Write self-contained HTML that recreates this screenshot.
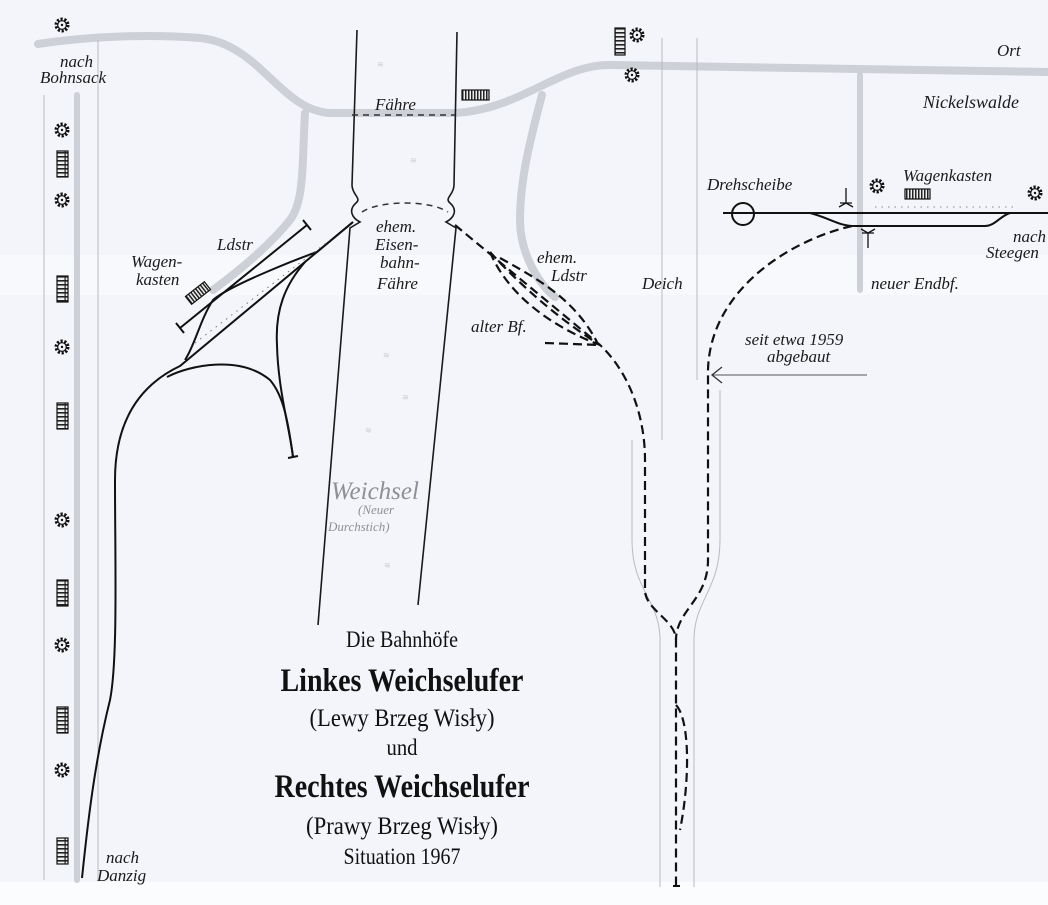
<!DOCTYPE html>
<html><head><meta charset="utf-8"><style>
html,body{margin:0;padding:0;background:#f3f5fa;}
svg{display:block;}
.it{font-family:"Liberation Serif",serif;font-style:italic;fill:#1a1a1a;}
.ti{font-family:"Liberation Serif",serif;fill:#111;}
</style></head><body>
<svg width="1048" height="905" viewBox="0 0 1048 905" xmlns="http://www.w3.org/2000/svg">
<defs>
<symbol id="fl" viewBox="-9 -9 18 18" overflow="visible">
<circle r="6" fill="none" stroke="#111" stroke-width="3" stroke-dasharray="2.2 1.6"/>
<circle r="4.3" fill="none" stroke="#111" stroke-width="1.2"/>
<circle r="1.2" fill="#111"/>
</symbol>
<pattern id="vb" width="10" height="4" patternUnits="userSpaceOnUse"><rect width="10" height="4" fill="#eee"/><rect width="10" height="1.6" fill="#222"/><rect x="4.5" width="1.2" height="4" fill="#222"/></pattern>
<pattern id="hb" width="3" height="10" patternUnits="userSpaceOnUse"><rect width="3" height="10" fill="#eee"/><rect width="1.5" height="10" fill="#222"/></pattern>
</defs>
<rect width="1048" height="905" fill="#f3f5fa"/>
<rect x="0" y="255" width="1048" height="40" fill="#f8f9fc"/>
<rect x="0" y="882" width="1048" height="23" fill="#fbfcfd"/>

<g fill="none" stroke="#cdd0d6" stroke-width="8" stroke-linecap="round">
<path d="M38,44 C90,36 150,34 200,38 C260,44 280,110 330,113 L455,113 C520,110 560,64 610,65 C700,66 900,70 1048,72"/>
<path d="M305,113 C302,160 305,200 290,220 C270,245 240,270 213,290"/>
<path d="M542,95 C530,140 520,180 520,220 C520,255 540,285 555,297"/>
<path d="M860,75 L860,290" stroke-width="6"/>
<path d="M77,95 L77,880" stroke-width="6"/>
</g>
<g fill="none" stroke="#b8bac0" stroke-width="1">
<path d="M44,95 L44,880"/><path d="M98,40 L98,880"/>
<path d="M662,38 L662,440"/><path d="M697,38 L697,380"/>
<path d="M632,440 L632,540 C632,590 660,600 660,640 L660,887"/>
<path d="M720,390 L720,540 C720,590 694,600 694,640 L694,887"/>
<path d="M712,375 L867,375" stroke="#555"/>
</g>
<path d="M722,367 L712,375 L722,383" fill="none" stroke="#333" stroke-width="1.3"/>

<g fill="none" stroke="#1a1a1a" stroke-width="1.6">
<path d="M357,30 L352,185 C352,195 362,198 356,203 C348,210 352,218 360,222 L350,228 L318,625"/>
<path d="M457,32 L454,185 C454,195 444,198 450,203 C458,210 454,218 446,222 L456,228 L418,605"/>
</g>
<path d="M352,115 L455,115" stroke="#333" stroke-width="1.5" stroke-dasharray="6 5" fill="none"/>
<path d="M362,212 C380,200 430,200 448,212" stroke="#333" stroke-width="1.5" stroke-dasharray="6 5" fill="none"/>
<g fill="#c9ccd2" font-size="8" font-family="Liberation Sans,sans-serif"><text x="377" y="67">≋</text><text x="410" y="163">≋</text><text x="383" y="358">≋</text><text x="402" y="400">≋</text><text x="365" y="433">≋</text><text x="384" y="568">≋</text></g>

<g fill="none" stroke="#111" stroke-width="2">
<path d="M82,878 C88,820 95,760 110,700 C118,660 115,560 115,480 C115,420 140,385 180,366 L353,222"/>
<path d="M180,328 L307,225"/><path d="M176,323 L184,333 M303,220 L311,230"/>
<path d="M353,222 L317,252 C300,258 230,285 213,300 C200,320 195,345 185,360"/>
<path d="M305,262 C285,285 275,310 277,345 C278,390 290,430 293,457"/><path d="M288,458 L298,456"/>
<path d="M167,377 C190,365 240,355 270,380 C283,395 288,420 293,457"/>
</g>
<path d="M195,343 L330,240" stroke="#777" stroke-width="1" stroke-dasharray="1.5 5" fill="none"/>

<g fill="none" stroke="#111" stroke-width="2.2" stroke-dasharray="9 5">
<path d="M455,225 L600,345 C625,368 645,410 645,460 L645,590 C645,610 676,620 676,640 L676,885"/>
<path d="M490,252 C520,285 560,320 600,345"/>
<path d="M490,252 C510,300 560,330 600,345"/>
<path d="M500,258 C540,280 575,300 597,342"/>
<path d="M545,343 L600,345"/>
<path d="M676,705 C690,720 690,780 680,830"/>
<path d="M852,226 C790,240 710,290 708,370 L708,560 C708,600 676,610 676,640"/>
</g>
<path d="M673,886 L680,886" stroke="#111" stroke-width="2"/>

<g fill="none" stroke="#111" stroke-width="2">
<path d="M723,213 L1048,213"/>
<circle cx="743" cy="214" r="11"/>
<path d="M810,213 C830,218 838,226 855,226 L985,226 C995,226 1000,216 1010,213"/>
<path d="M846,188 L846,203 M839,207 L846,203 L853,207 M840,203 L852,203" stroke-width="1.3"/>
<path d="M868,248 L868,233 M861,229 L868,233 L875,229 M862,233 L874,233" stroke-width="1.3"/>
</g>
<path d="M875,207 L1015,207" stroke="#888" stroke-width="1" stroke-dasharray="1.5 5"/>

<g>
<use href="#fl" x="53" y="16" width="18" height="18"/>
<use href="#fl" x="53" y="121" width="18" height="18"/>
<use href="#fl" x="53" y="191" width="18" height="18"/>
<use href="#fl" x="53" y="338" width="18" height="18"/>
<use href="#fl" x="53" y="511" width="18" height="18"/>
<use href="#fl" x="53" y="636" width="18" height="18"/>
<use href="#fl" x="53" y="761" width="18" height="18"/>
<use href="#fl" x="628" y="26" width="18" height="18"/>
<use href="#fl" x="623" y="66" width="18" height="18"/>
<use href="#fl" x="868" y="177" width="18" height="18"/>
<use href="#fl" x="1026" y="184" width="18" height="18"/>
</g>
<g stroke="#111" stroke-width="1.2">
<rect x="57" y="151" width="11" height="26" fill="url(#vb)"/>
<rect x="57" y="276" width="11" height="26" fill="url(#vb)"/>
<rect x="57" y="403" width="11" height="26" fill="url(#vb)"/>
<rect x="57" y="580" width="11" height="26" fill="url(#vb)"/>
<rect x="57" y="707" width="11" height="26" fill="url(#vb)"/>
<rect x="57" y="838" width="11" height="26" fill="url(#vb)"/>
<rect x="615" y="28" width="10" height="27" fill="url(#vb)"/>
<rect x="462" y="90" width="27" height="10" fill="url(#hb)"/>
<rect x="905" y="189" width="25" height="10" fill="url(#hb)"/>
<rect x="186" y="288" width="24" height="10" fill="url(#hb)" transform="rotate(-38 198 293)"/>
</g>

<g class="it" font-size="17">
<text x="60" y="67">nach</text><text x="40" y="83">Bohnsack</text>
<text x="375" y="110">Fähre</text>
<text x="997" y="56">Ort</text>
<text x="923" y="108" font-size="18">Nickelswalde</text>
<text x="707" y="190">Drehscheibe</text>
<text x="903" y="181">Wagenkasten</text>
<text x="1013" y="242">nach</text><text x="986" y="258">Steegen</text>
<text x="217" y="250">Ldstr</text>
<text x="131" y="267">Wagen-</text><text x="136" y="285">kasten</text>
<text x="376" y="232">ehem.</text><text x="375" y="250">Eisen-</text><text x="380" y="268">bahn-</text><text x="377" y="289">Fähre</text>
<text x="537" y="263">ehem.</text><text x="551" y="281">Ldstr</text>
<text x="642" y="289">Deich</text>
<text x="471" y="332">alter Bf.</text>
<text x="871" y="289">neuer Endbf.</text>
<text x="745" y="345">seit etwa 1959</text><text x="767" y="362">abgebaut</text>
<text x="106" y="863">nach</text><text x="97" y="881">Danzig</text>
</g>
<text x="331" y="499" class="it" font-size="25" style="fill:#8e9096">Weichsel</text>
<text x="358" y="514" class="it" font-size="13" style="fill:#8e9096">(Neuer</text>
<text x="328" y="531" class="it" font-size="13" style="fill:#8e9096">Durchstich)</text>

<g class="ti" text-anchor="middle">
<text x="402" y="647" font-size="23" textLength="112" lengthAdjust="spacingAndGlyphs">Die Bahnhöfe</text>
<text x="402" y="691" font-size="33" font-weight="bold" textLength="243" lengthAdjust="spacingAndGlyphs">Linkes Weichselufer</text>
<text x="402" y="726" font-size="25" textLength="185" lengthAdjust="spacingAndGlyphs">(Lewy Brzeg Wisły)</text>
<text x="402" y="755" font-size="23" textLength="31" lengthAdjust="spacingAndGlyphs">und</text>
<text x="402" y="797" font-size="33" font-weight="bold" textLength="255" lengthAdjust="spacingAndGlyphs">Rechtes Weichselufer</text>
<text x="402" y="834" font-size="25" textLength="192" lengthAdjust="spacingAndGlyphs">(Prawy Brzeg Wisły)</text>
<text x="402" y="864" font-size="23" textLength="117" lengthAdjust="spacingAndGlyphs">Situation 1967</text>
</g>
</svg>
</body></html>
